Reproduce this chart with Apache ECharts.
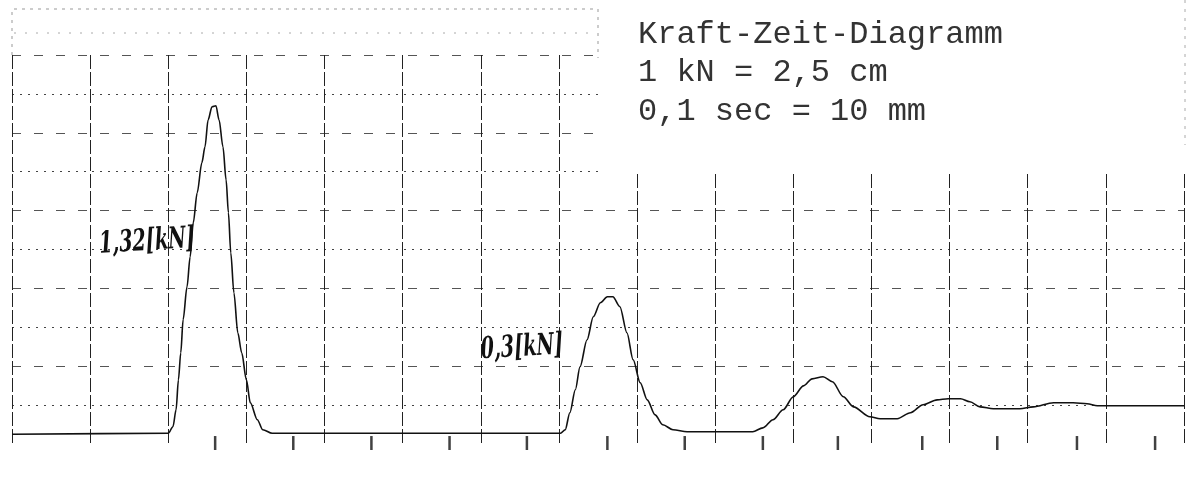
<!DOCTYPE html>
<html>
<head>
<meta charset="utf-8">
<script src="https://cdn.jsdelivr.net/npm/echarts@6/dist/echarts.min.js"></script>
<style>
  html, body { margin: 0; padding: 0; background: #fff; }
  #chart { width: 1195px; height: 481px; }
</style>
</head>
<body>
<div id="chart"></div>
<script>
// Zeit in s (0,1 sec = 10 mm), Kraft in kN (1 kN = 2,5 cm)
const timeS = [0, 0.2, 0.206, 0.21, 0.213, 0.216, 0.219, 0.224, 0.228, 0.232, 0.237, 0.243, 0.247, 0.251,
  0.256, 0.261, 0.265, 0.27, 0.274, 0.277, 0.28, 0.284, 0.289, 0.294, 0.3, 0.305, 0.314, 0.321, 0.333,
  0.702, 0.708, 0.714, 0.721, 0.727, 0.736, 0.744, 0.753, 0.762, 0.769, 0.778, 0.787, 0.795, 0.804,
  0.813, 0.823, 0.833, 0.846, 0.864, 0.948, 0.961, 0.974, 0.987, 1.0, 1.013, 1.024, 1.038, 1.05,
  1.064, 1.077, 1.098, 1.111, 1.133, 1.15, 1.166, 1.184, 1.198, 1.214, 1.226, 1.239, 1.256, 1.29,
  1.307, 1.333, 1.358, 1.376, 1.389, 1.418, 1.5];
const forceKN = [0, 0.005, 0.039, 0.126, 0.28, 0.419, 0.589, 0.758, 0.913, 1.088, 1.242, 1.396, 1.478, 1.617,
  1.684, 1.689, 1.617, 1.478, 1.308, 1.139, 0.933, 0.728, 0.522, 0.419, 0.28, 0.162, 0.075, 0.023, 0.005,
  0.005, 0.023, 0.111, 0.229, 0.347, 0.486, 0.604, 0.676, 0.707, 0.707, 0.656, 0.522, 0.383, 0.265,
  0.177, 0.1, 0.049, 0.023, 0.013, 0.013, 0.033, 0.075, 0.126, 0.193, 0.249, 0.285, 0.296, 0.27,
  0.193, 0.141, 0.09, 0.08, 0.08, 0.111, 0.152, 0.177, 0.183, 0.183, 0.167, 0.141, 0.131, 0.131,
  0.141, 0.162, 0.162, 0.157, 0.147, 0.147, 0.147];
// Zeitmarken unter der Nulllinie
const markTimes = [0.26, 0.36, 0.46, 0.56, 0.659, 0.762, 0.861, 0.961, 1.057, 1.165, 1.261, 1.363, 1.463];
const markLevel = -0.045;

const titleLines = ['Kraft-Zeit-Diagramm', '1 kN = 2,5 cm', '0,1 sec = 10 mm'];
const peakLabels = ['1,32[kN]', '0,3[kN]'];

const xMin = 0, xMax = 1.5, xStep = 0.1;
const yMin = -0.05, yMax = 1.95;

const chart = echarts.init(document.getElementById('chart'));

const trace = timeS.map((t, i) => [t, forceKN[i]]);
const marks = markTimes.map(t => [t, markLevel]);

// handschriftliche Notiz
const note = (text, x, y) => ({
  type: 'text',
  z: 12,
  x: x,
  y: y,
  rotation: 0.06,
  scaleX: 0.8,
  scaleY: 1.25,
  style: {
    text: text,
    fontFamily: 'DejaVu Serif',
    fontStyle: 'italic',
    fontWeight: 'bold',
    fontSize: 24,
    fill: '#111',
    align: 'center',
    verticalAlign: 'middle'
  }
});

const option = {
  backgroundColor: '#fff',
  animation: false,
  title: {
    text: titleLines.join('\n'),
    left: 633,
    top: 10,
    z: 10,
    textStyle: {
      fontFamily: 'Liberation Mono',
      fontWeight: 'normal',
      fontSize: 32,
      lineHeight: 38.5,
      color: '#333'
    }
  },
  grid: { left: 12, right: 11, top: 55, bottom: 37 },
  xAxis: {
    type: 'value',
    min: xMin,
    max: xMax,
    interval: xStep,
    axisLine: { show: false },
    axisTick: { show: false },
    axisLabel: { show: false },
    splitLine: { show: true, lineStyle: { color: '#222', width: 1, type: [14, 3] } }
  },
  yAxis: [
    {
      // punktierte Linien (jede zweite)
      type: 'value',
      min: yMin,
      max: yMax,
      interval: 0.2,
      axisLine: { show: false },
      axisTick: { show: false },
      axisLabel: { show: false },
      splitLine: { show: true, lineStyle: { color: ['rgba(0,0,0,0)', '#444'], width: 1.2, type: [2, 6] } }
    },
    {
      // gestrichelte Linien
      type: 'value',
      min: yMin,
      max: yMax,
      interval: 0.4,
      axisLine: { show: false },
      axisTick: { show: false },
      axisLabel: { show: false },
      splitLine: { show: true, showMinLine: false, lineStyle: { color: '#555', width: 1, type: [9, 13] } }
    }
  ],
  graphic: [
    {
      type: 'rect',
      z: 5,
      shape: { x: 603, y: 0, width: 592, height: 173 },
      style: { fill: '#fff' }
    },
    {
      type: 'polyline',
      z: 6,
      shape: { points: [[12, 55], [12, 9], [598, 9], [598, 58]] },
      style: { fill: null, stroke: '#999', lineWidth: 1, lineDash: [3, 5] }
    },
    {
      type: 'line',
      z: 6,
      shape: { x1: 14, y1: 33, x2: 596, y2: 33 },
      style: { stroke: '#aaa', lineWidth: 1, lineDash: [2, 9] }
    },
    {
      type: 'line',
      z: 6,
      shape: { x1: 1185, y1: 0, x2: 1185, y2: 145 },
      style: { stroke: '#aaa', lineWidth: 1, lineDash: [3, 6] }
    },
    note(peakLabels[0], 147, 242),
    note(peakLabels[1], 522, 348)
  ],
  series: [
    {
      type: 'line',
      data: trace,
      yAxisIndex: 0,
      showSymbol: false,
      smooth: 0.3,
      smoothMonotone: 'x',
      lineStyle: { color: '#111', width: 1.6 },
      z: 3
    },
    {
      type: 'scatter',
      data: marks,
      yAxisIndex: 0,
      symbol: 'rect',
      symbolSize: [2.5, 14],
      itemStyle: { color: '#111' },
      silent: true,
      z: 3
    }
  ]
};

option && chart.setOption(option);
</script>
</body>
</html>
